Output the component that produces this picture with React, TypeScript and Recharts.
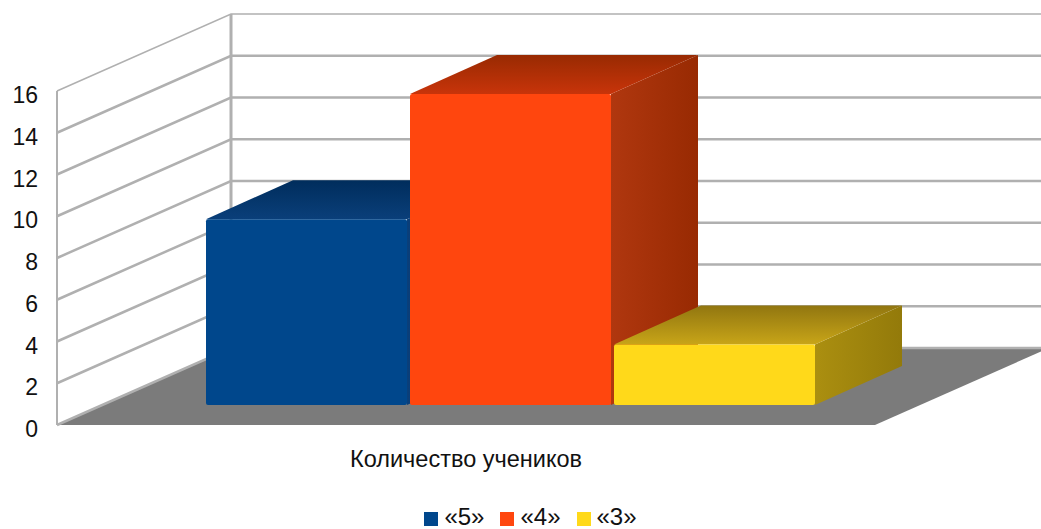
import React from 'react'
import { BarChart, Bar, XAxis, YAxis, CartesianGrid, Legend } from 'recharts'

const categories = ['Количество учеников']
const seriesNames = ['«5»', '«4»', '«3»']
const seriesValues = [8.9, 14.9, 2.9]
const yTicks = [0, 2, 4, 6, 8, 10, 12, 14, 16]

const frontColors = ['#00478c', '#ff460e', '#ffd91a']
const topColors = [['#0a3f7a', '#002d5c'], ['#c8340a', '#982a02'], ['#c8a518', '#917610']]
const sideColors = [['#0a3f7a', '#002d5c'], ['#b0370f', '#982a02'], ['#ab8f10', '#937a0a']]

const W = 1041
const H = 529
const PLOT_LEFT = 57
const PLOT_TOP = 91
const PLOT_RIGHT = 875
const PLOT_BOTTOM = 425
// wall depth of the fake 3d box, and where the bars stand inside it
const WALL_DX = 174
const WALL_DY = -77
const BAR_DX = 44
const BAR_DY = -20
const DEPTH_DX = 87
const DEPTH_DY = -39
const GRID = '#b0b0b0'
const FONT = '"Liberation Sans", Arial, sans-serif'

const rows = categories.map(name => {
  const row: any = { name }
  seriesNames.forEach((s, i) => { row[s] = seriesValues[i] })
  return row
})

function WallLine(props: any) {
  const { x1, y1 } = props
  const isTop = Math.abs(y1 - PLOT_TOP) < 1
  const isFloor = Math.abs(y1 - PLOT_BOTTOM) < 1
  const bx = x1 + WALL_DX
  const by = y1 + WALL_DY
  return (
    <g>
      {isFloor && (
        <polygon
          points={`${x1},${y1} ${bx},${by} ${W + 8},${by} ${PLOT_RIGHT},${y1}`}
          fill="#7b7b7b"
        />
      )}
      <polyline points={`${x1},${y1} ${bx},${by} ${W},${by}`} fill="none" stroke={GRID} strokeWidth={isTop ? 1.5 : 2.5} />
      {isTop && <line x1={bx} y1={by} x2={bx} y2={PLOT_BOTTOM + WALL_DY} stroke={GRID} strokeWidth={3} />}
    </g>
  )
}

function Box3D(props: any) {
  const { x, y, width, height, index3d } = props
  const fx = x + BAR_DX
  const fy = y + BAR_DY
  const r = fx + width
  const b = fy + height
  return (
    <g>
      <polygon
        points={`${r},${fy} ${r + DEPTH_DX},${fy + DEPTH_DY} ${r + DEPTH_DX},${b + DEPTH_DY} ${r},${b}`}
        fill={`url(#side${index3d})`}
      />
      <polygon
        points={`${fx},${fy} ${fx + DEPTH_DX},${fy + DEPTH_DY} ${r + DEPTH_DX},${fy + DEPTH_DY} ${r},${fy}`}
        fill={`url(#top${index3d})`}
      />
      <rect x={fx} y={fy} width={width} height={height} rx={2} fill={frontColors[index3d]} />
    </g>
  )
}

export default function App() {
  return (
    <div style={{ position: 'absolute', left: 0, top: 0, width: W, height: H, fontFamily: FONT }}>
      <BarChart
        width={W}
        height={H}
        data={rows}
        barSize={201}
        barGap={3}
        margin={{ top: PLOT_TOP, right: W - PLOT_RIGHT, bottom: 0, left: 0 }}
      >
        <defs>
          {seriesNames.map((_, i) => (
            <React.Fragment key={i}>
              <linearGradient id={`top${i}`} x1="0" y1="1" x2="0" y2="0">
                <stop offset="0%" stopColor={topColors[i][0]} />
                <stop offset="100%" stopColor={topColors[i][1]} />
              </linearGradient>
              <linearGradient id={`side${i}`} x1="0" y1="0" x2="1" y2="0">
                <stop offset="0%" stopColor={sideColors[i][0]} />
                <stop offset="100%" stopColor={sideColors[i][1]} />
              </linearGradient>
            </React.Fragment>
          ))}
        </defs>
        <CartesianGrid vertical={false} horizontal={(p: any) => <WallLine key={p.key} {...p} />} />
        <XAxis
          dataKey="name"
          height={50}
          axisLine={false}
          tickLine={false}
          tickMargin={19}
          tick={{ fontSize: 23.5, fill: '#111', fontFamily: FONT }}
        />
        <YAxis
          width={PLOT_LEFT}
          domain={[0, 16]}
          ticks={yTicks}
          interval={0}
          axisLine={{ stroke: GRID, strokeWidth: 2 }}
          tickLine={false}
          tickMargin={13}
          tick={{ fontSize: 23, fill: '#111', fontFamily: FONT, dy: 4 }}
        />
        <Legend
          height={54}
          iconType="square"
          iconSize={14}
          itemSorter={null}
          wrapperStyle={{ top: 503, left: 101, fontSize: 24, fontFamily: FONT }}
          formatter={(v: string) => <span style={{ color: '#111', marginLeft: 2, marginRight: 6 }}>{v}</span>}
        />
        {seriesNames.map((s, i) => (
          <Bar
            key={s}
            dataKey={s}
            fill={frontColors[i]}
            isAnimationActive={false}
            shape={(p: any) => <Box3D {...p} index3d={i} />}
          />
        ))}
      </BarChart>
    </div>
  )
}
